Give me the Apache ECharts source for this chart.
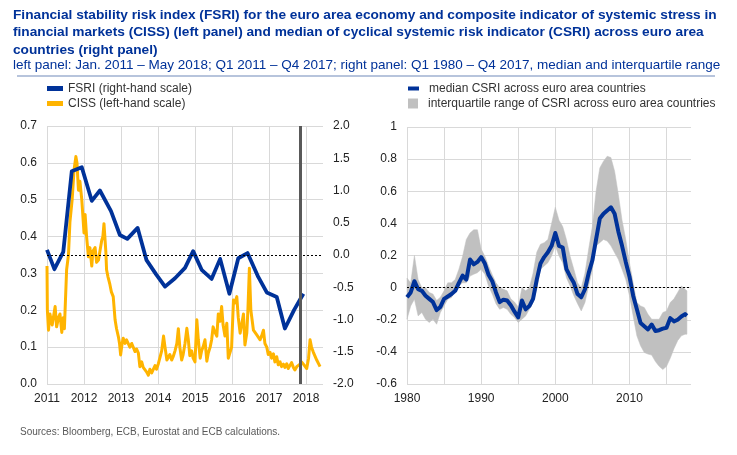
<!DOCTYPE html>
<html>
<head>
<meta charset="utf-8">
<script src="https://cdn.jsdelivr.net/npm/echarts@6/dist/echarts.min.js"></script>
<style>
html,body{margin:0;padding:0;background:#fff;}
#chart{width:737px;height:455px;}
</style>
</head>
<body>
<div id="chart"></div>
<script>
// ---------- Left panel data ----------
// FSRI (right-hand scale), quarterly, positions in decimal years
const fsriYears = [2011.00,2011.20,2011.44,2011.67,2011.94,2012.21,2012.43,2012.73,2012.97,2013.17,2013.45,2013.69,2013.95,2014.19,2014.46,2014.73,2014.95,2015.18,2015.45,2015.68,2015.93,2016.17,2016.42,2016.71,2016.94,2017.21,2017.43,2017.68,2017.93];
const fsriValues = [0.08,-0.22,0.05,1.30,1.36,0.84,1.00,0.68,0.31,0.25,0.42,-0.08,-0.30,-0.49,-0.36,-0.20,0.06,-0.23,-0.37,-0.06,-0.60,-0.05,0.03,-0.34,-0.58,-0.65,-1.14,-0.85,-0.60];

// CISS (left-hand scale)
const cissYears = [2011.00,2011.01,2011.04,2011.08,2011.14,2011.22,2011.26,2011.31,2011.35,2011.40,2011.44,2011.47,2011.53,2011.58,2011.62,2011.68,2011.73,2011.78,2011.81,2011.85,2011.89,2011.94,2011.96,2012.00,2012.03,2012.07,2012.12,2012.16,2012.21,2012.24,2012.30,2012.34,2012.39,2012.43,2012.48,2012.51,2012.54,2012.57,2012.59,2012.61,2012.65,2012.70,2012.74,2012.79,2012.84,2012.88,2012.93,2012.96,2012.99,2013.03,2013.06,2013.11,2013.15,2013.20,2013.24,2013.29,2013.33,2013.38,2013.42,2013.47,2013.51,2013.56,2013.60,2013.65,2013.69,2013.74,2013.78,2013.83,2013.87,2013.92,2013.96,2014.01,2014.05,2014.10,2014.15,2014.19,2014.24,2014.28,2014.32,2014.37,2014.41,2014.46,2014.51,2014.55,2014.59,2014.64,2014.68,2014.73,2014.78,2014.82,2014.86,2014.91,2014.95,2015.00,2015.05,2015.09,2015.14,2015.18,2015.22,2015.27,2015.32,2015.36,2015.41,2015.45,2015.49,2015.54,2015.59,2015.63,2015.68,2015.72,2015.76,2015.81,2015.86,2015.90,2015.95,2015.99,2016.04,2016.08,2016.13,2016.17,2016.22,2016.26,2016.31,2016.35,2016.40,2016.43,2016.47,2016.51,2016.58,2016.62,2016.67,2016.71,2016.76,2016.80,2016.85,2016.89,2016.94,2016.98,2017.03,2017.07,2017.12,2017.16,2017.21,2017.25,2017.30,2017.34,2017.39,2017.43,2017.48,2017.52,2017.57,2017.61,2017.66,2017.70,2017.75,2017.79,2017.84,2017.88,2017.93,2017.97,2018.02,2018.07,2018.11,2018.15,2018.20,2018.24,2018.29,2018.33,2018.38];
const cissValues = [0.32,0.20,0.146,0.19,0.16,0.21,0.155,0.18,0.19,0.14,0.18,0.15,0.31,0.35,0.44,0.50,0.58,0.617,0.60,0.526,0.55,0.50,0.50,0.41,0.46,0.40,0.345,0.37,0.32,0.36,0.37,0.33,0.336,0.36,0.39,0.40,0.435,0.44,0.36,0.31,0.29,0.27,0.25,0.237,0.174,0.15,0.128,0.11,0.079,0.11,0.124,0.11,0.12,0.12,0.10,0.11,0.106,0.088,0.095,0.084,0.047,0.06,0.045,0.05,0.033,0.024,0.04,0.03,0.035,0.05,0.04,0.055,0.06,0.09,0.13,0.10,0.065,0.06,0.08,0.065,0.074,0.09,0.11,0.15,0.10,0.065,0.08,0.11,0.151,0.12,0.077,0.09,0.07,0.06,0.174,0.12,0.07,0.09,0.101,0.12,0.062,0.084,0.10,0.12,0.155,0.14,0.13,0.19,0.17,0.21,0.16,0.13,0.165,0.07,0.065,0.10,0.228,0.22,0.237,0.18,0.138,0.16,0.19,0.106,0.138,0.20,0.314,0.20,0.146,0.15,0.133,0.13,0.12,0.13,0.146,0.11,0.10,0.08,0.086,0.07,0.082,0.06,0.074,0.052,0.06,0.047,0.054,0.045,0.055,0.042,0.04,0.058,0.045,0.038,0.047,0.05,0.054,0.06,0.054,0.05,0.042,0.07,0.12,0.10,0.086,0.084,0.065,0.06,0.047];

const cutoffYear = 2017.84;   // vertical marker line

// ---------- Right panel data ----------
const csriYears = [];
for (let i = 0; i < 76; i++) csriYears.push(1980 + i * 0.5);
csriYears.push(2017.75);
const csriMedian = [-0.06,-0.03,0.04,-0.01,-0.02,-0.05,-0.07,-0.09,-0.14,-0.12,
  -0.07,-0.055,-0.04,-0.02,0.03,0.075,0.05,0.175,0.145,0.16,
  0.19,0.15,0.08,0.04,-0.03,-0.09,-0.075,-0.08,-0.11,-0.15,
  -0.185,-0.08,-0.135,-0.115,-0.07,0.05,0.15,0.19,0.22,0.26,
  0.34,0.26,0.25,0.115,0.07,0.03,-0.04,-0.06,-0.01,0.09,
  0.17,0.30,0.43,0.46,0.48,0.50,0.46,0.35,0.26,0.16,
  0.07,-0.05,-0.135,-0.22,-0.24,-0.26,-0.23,-0.27,-0.265,-0.255,
  -0.25,-0.19,-0.21,-0.20,-0.18,-0.165,-0.175];
const csriUpper = [0.06,0.03,0.20,0.05,0.00,0.00,-0.03,-0.04,-0.08,-0.06,
  -0.02,0.03,0.03,0.05,0.115,0.195,0.30,0.34,0.36,0.36,
  0.24,0.195,0.135,0.08,0.03,0.00,-0.01,-0.02,-0.07,-0.09,
  -0.12,0.00,-0.02,0.00,0.09,0.22,0.27,0.28,0.30,0.40,
  0.50,0.42,0.38,0.30,0.195,0.115,0.03,0.00,0.09,0.24,
  0.38,0.60,0.745,0.787,0.818,0.81,0.725,0.58,0.42,0.30,
  0.155,0.03,-0.093,-0.114,-0.124,-0.166,-0.197,-0.197,-0.197,-0.155,
  -0.145,-0.093,-0.07,-0.03,0.01,-0.01,-0.02];
const csriLower = [-0.197,-0.114,-0.072,-0.176,-0.155,-0.197,-0.217,-0.197,-0.228,-0.155,
  -0.114,-0.072,-0.062,-0.02,0.01,0.03,0.03,0.072,0.083,0.093,
  0.114,0.083,0.01,-0.04,-0.10,-0.135,-0.124,-0.135,-0.166,-0.186,
  -0.217,-0.197,-0.176,-0.135,-0.093,-0.01,0.114,0.135,0.155,0.197,
  0.26,0.197,0.155,0.062,0.01,-0.05,-0.10,-0.145,-0.093,0.01,
  0.114,0.26,0.28,0.30,0.29,0.26,0.217,0.176,0.114,0.05,
  -0.05,-0.176,-0.30,-0.362,-0.404,-0.414,-0.42,-0.46,-0.49,-0.51,
  -0.49,-0.44,-0.38,-0.33,-0.30,-0.29,-0.29];

// ---------- Text ----------
const titleText = 'Financial stability risk index (FSRI) for the euro area economy and composite indicator of systemic stress in\nfinancial markets (CISS) (left panel) and median of cyclical systemic risk indicator (CSRI) across euro area\ncountries (right panel)';
const subtitleText = 'left panel: Jan. 2011 \u2013 May 2018; Q1 2011 \u2013 Q4 2017; right panel: Q1 1980 \u2013 Q4 2017, median and interquartile range';
const sourceText = 'Sources: Bloomberg, ECB, Eurostat and ECB calculations.';
const nFSRI = 'FSRI (right-hand scale)';
const nCISS = 'CISS (left-hand scale)';
const nMed = 'median CSRI across euro area countries';
const nIQR = 'interquartile range of CSRI across euro area countries';

const BLUE = '#003299', YELLOW = '#ffb400', GREY = '#c0c0c0';
const FONT = '"Liberation Sans", Arial, sans-serif';
const zip = (xs, ys) => xs.map((x, i) => [x, ys[i]]);

const chart = echarts.init(document.getElementById('chart'), null, {renderer: 'canvas'});
const axisLabel = {fontFamily: FONT, fontSize: 12, color: '#222'};
const split = {show: true, lineStyle: {color: '#d9d9d9', width: 1}};

chart.setOption({
  animation: false,
  backgroundColor: '#fff',
  title: [
    {text: titleText, left: 13, top: 6, padding: 0,
     textStyle: {fontFamily: FONT, fontSize: 13.7, fontWeight: 'bold', color: BLUE, lineHeight: 17.5}},
    {text: subtitleText, left: 13, top: 58, padding: 0,
     textStyle: {fontFamily: FONT, fontSize: 13.5, fontWeight: 'normal', color: BLUE, lineHeight: 15}},
    {text: sourceText, left: 20, top: 427, padding: 0,
     textStyle: {fontFamily: FONT, fontSize: 10, fontWeight: 'normal', color: '#595959'}}
  ],
  graphic: [
    {type: 'line', shape: {x1: 17, y1: 76, x2: 715, y2: 76}, style: {stroke: '#9fb0d0', lineWidth: 1.5}, silent: true}
  ],
  legend: [
    {data: [nFSRI, nCISS], orient: 'vertical', left: 47, top: 81, icon: 'rect', itemWidth: 16, itemHeight: 5,
     itemGap: 0, selectedMode: false, padding: 0,
     textStyle: {fontFamily: FONT, fontSize: 12, color: '#333', lineHeight: 15}},
    {data: [nMed], orient: 'vertical', left: 408, top: 81, icon: 'rect', itemWidth: 11, itemHeight: 4,
     selectedMode: false, padding: 0,
     textStyle: {fontFamily: FONT, fontSize: 12, color: '#333', lineHeight: 15, padding: [0, 0, 0, 5]}},
    {data: [{name: nIQR, itemStyle: {color: GREY}}], orient: 'vertical', left: 408, top: 96, icon: 'rect', itemWidth: 10, itemHeight: 10,
     selectedMode: false, padding: 0,
     textStyle: {fontFamily: FONT, fontSize: 12, color: '#333', lineHeight: 15, padding: [0, 0, 0, 5]}}
  ],
  grid: [
    {left: 47, top: 126, width: 276, height: 258},
    {left: 407, top: 127, width: 284, height: 257}
  ],
  xAxis: [
    {type: 'value', gridIndex: 0, min: 2011, max: 2018.46, interval: 1,
     axisLine: {show: false}, axisTick: {show: false},
     axisLabel: Object.assign({}, axisLabel, {margin: 9, showMaxLabel: false,
       formatter: v => (Math.abs(v - Math.round(v)) < 1e-6 ? String(Math.round(v)) : '')}),
     splitLine: Object.assign({showMaxLine: false}, split)},
    {type: 'value', gridIndex: 1, min: 1980, max: 2018.3, interval: 5,
     axisLine: {show: false}, axisTick: {show: false},
     axisLabel: Object.assign({}, axisLabel, {margin: 9, showMaxLabel: false,
       formatter: v => (Math.round(v) % 10 === 0 && Math.abs(v - Math.round(v)) < 1e-6 ? String(Math.round(v)) : '')}),
     splitLine: Object.assign({showMaxLine: false}, split)}
  ],
  yAxis: [
    {type: 'value', gridIndex: 0, min: 0, max: 0.7, interval: 0.1,
     axisLine: {show: false}, axisTick: {show: false},
     axisLabel: Object.assign({}, axisLabel, {margin: 10, formatter: v => v.toFixed(1)}),
     splitLine: split},
    {type: 'value', gridIndex: 0, position: 'right', min: -2, max: 2, interval: 0.5,
     axisLine: {show: false}, axisTick: {show: false},
     axisLabel: Object.assign({}, axisLabel, {margin: 10, formatter: v => v.toFixed(1)}),
     splitLine: {show: false}},
    {type: 'value', gridIndex: 1, min: -0.6, max: 1, interval: 0.2,
     axisLine: {show: false}, axisTick: {show: false},
     axisLabel: Object.assign({}, axisLabel, {margin: 10, formatter: v => String(+v.toFixed(1))}),
     splitLine: split}
  ],
  series: [
    {name: nCISS, type: 'line', xAxisIndex: 0, yAxisIndex: 0, data: zip(cissYears, cissValues),
     showSymbol: false, symbol: 'none', z: 2,
     lineStyle: {color: YELLOW, width: 3, join: 'round'}, itemStyle: {color: YELLOW}},
    {name: nFSRI, type: 'line', xAxisIndex: 0, yAxisIndex: 1, data: zip(fsriYears, fsriValues),
     showSymbol: false, symbol: 'none', z: 3,
     lineStyle: {color: BLUE, width: 3.8, join: 'round'}, itemStyle: {color: BLUE},
     markLine: {silent: true, symbol: 'none', label: {show: false}, animation: false,
       data: [
         {yAxis: 0, lineStyle: {color: '#000', width: 1, type: [2, 2]}},
         {xAxis: cutoffYear, lineStyle: {color: '#595959', width: 3, type: 'solid'}}
       ]}},
    {name: nIQR, type: 'custom', xAxisIndex: 1, yAxisIndex: 2, coordinateSystem: 'cartesian2d',
     data: zip(csriYears, csriUpper), encode: {x: 0, y: 1}, z: 1, silent: true,
     itemStyle: {color: GREY},
     renderItem: function (params, api) {
       if (params.dataIndex !== 0) return null;
       const pts = [];
       for (let i = 0; i < csriYears.length; i++) pts.push(api.coord([csriYears[i], csriUpper[i]]));
       for (let i = csriYears.length - 1; i >= 0; i--) pts.push(api.coord([csriYears[i], csriLower[i]]));
       return {type: 'polygon', shape: {points: pts}, style: {fill: GREY, stroke: GREY, lineWidth: 0.5}};
     }},
    {name: nMed, type: 'line', xAxisIndex: 1, yAxisIndex: 2, data: zip(csriYears, csriMedian),
     showSymbol: false, symbol: 'none', z: 3,
     lineStyle: {color: BLUE, width: 4, join: 'round'}, itemStyle: {color: BLUE},
     markLine: {silent: true, symbol: 'none', label: {show: false}, animation: false,
       data: [{yAxis: 0, lineStyle: {color: '#000', width: 1, type: [2, 2]}}]}}
  ]
});
</script>
</body>
</html>
